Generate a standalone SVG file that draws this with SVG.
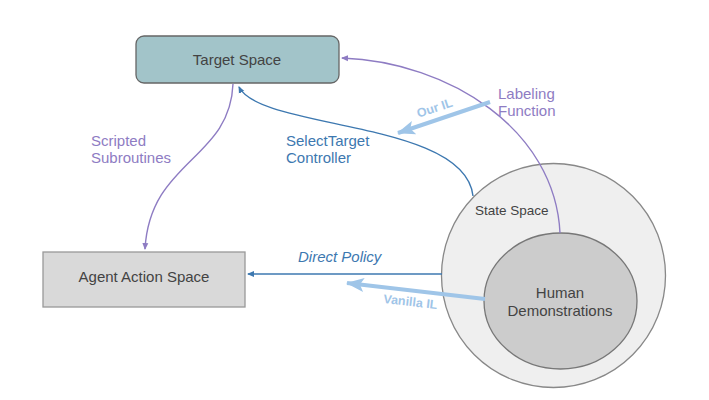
<svg xmlns="http://www.w3.org/2000/svg" width="709" height="400" viewBox="0 0 709 400">
<defs>
<style>
text{font-family:"Liberation Sans",Arial,sans-serif;font-size:15px}
.node{fill:#434343;text-anchor:middle}
.pl{fill:#8e7cc3}
.bl{fill:#3d78b0}
.lb{fill:#9fc5e8;font-weight:bold;font-size:12.5px;text-anchor:middle}
.cp{fill:none;stroke:#8e7cc3;stroke-width:1.4}
.cb{fill:none;stroke:#3d78b0;stroke-width:1.4}
.cl{fill:none;stroke:#9fc5e8;stroke-width:4}
</style>
<marker id="ap" markerWidth="8" markerHeight="8" refX="6" refY="4" orient="auto" markerUnits="userSpaceOnUse"><path d="M0,1 L7,4 L0,7 Z" fill="#8e7cc3"/></marker>
<marker id="ab" markerWidth="8" markerHeight="8" refX="6" refY="4" orient="auto" markerUnits="userSpaceOnUse"><path d="M0,1 L7,4 L0,7 Z" fill="#3d78b0"/></marker>
<marker id="al" markerWidth="20" markerHeight="16" refX="17" refY="8" orient="auto" markerUnits="userSpaceOnUse"><path d="M0,1 L18,8 L0,15 L4,8 Z" fill="#9fc5e8"/></marker>
</defs>
<rect width="709" height="400" fill="#ffffff"/>
<g id="state-space">
<circle cx="553.5" cy="275.5" r="112" fill="#efefef" stroke="#888888" stroke-width="1.3"/>
<text x="475" y="215" style="font-size:13.5px;fill:#434343">State Space</text>
</g>
<g id="human-demonstrations">
<ellipse cx="560.5" cy="301" rx="76.5" ry="68" fill="#cccccc" stroke="#777777" stroke-width="1.3"/>
<text class="node" x="560" y="298">Human</text>
<text class="node" x="560" y="316">Demonstrations</text>
</g>
<g id="target-space">
<rect x="136" y="36" width="203" height="47" rx="8" fill="#a2c4c9" stroke="#666666" stroke-width="1.3"/>
<text class="node" x="237" y="65">Target Space</text>
</g>
<g id="agent-action-space">
<rect x="43" y="252" width="202" height="55" fill="#d9d9d9" stroke="#999999" stroke-width="1.3"/>
<text class="node" x="144" y="282">Agent Action Space</text>
</g>
<g id="connectors">
<path class="cp" d="M560,233 C555,130 450,62 342,58" marker-end="url(#ap)"/>
<path class="cb" d="M473,196 C465,120 260,130 239,87" marker-end="url(#ab)"/>
<path class="cp" d="M233,84 C230,160 150,160 145,249" marker-end="url(#ap)"/>
<path class="cb" d="M442,274 L248,274" marker-end="url(#ab)"/>
<path class="cl" d="M485,299 L347,283" marker-end="url(#al)"/>
<path class="cl" d="M490,102 L398,133" marker-end="url(#al)"/>
<text class="pl" x="498" y="99">Labeling</text>
<text class="pl" x="498" y="116">Function</text>
<text class="pl" x="91" y="146">Scripted</text>
<text class="pl" x="91" y="163">Subroutines</text>
<text class="bl" x="286" y="146">SelectTarget</text>
<text class="bl" x="286" y="163">Controller</text>
<text class="bl" x="298" y="262" style="font-style:italic">Direct Policy</text>
<text class="lb" transform="translate(410,306) rotate(6.5)">Vanilla IL</text>
<text class="lb" transform="translate(436,112) rotate(-18.5)">Our IL</text>
</g>
</svg>
